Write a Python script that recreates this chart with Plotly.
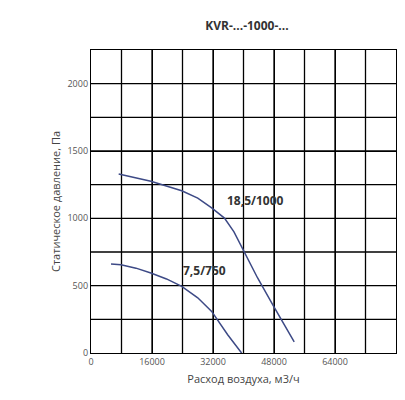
import plotly.graph_objects as go

# Fan curves
q_1000 = [7260, 15700, 23800, 28000, 31650, 35000, 37500, 39700, 43700, 47650, 53300]
p_1000 = [1329, 1275, 1205, 1150, 1077, 1002, 900, 780, 557, 359, 82]
q_750 = [5250, 7870, 11800, 15700, 19800, 23800, 28000, 31650, 35850, 39500]
p_750 = [661, 656, 630, 594, 550, 495, 410, 309, 136, 0]
x_ticks = [0, 16000, 32000, 48000, 64000]
y_ticks = [0, 500, 1000, 1500, 2000]

fig = go.Figure()
for q, p in [(q_1000, p_1000), (q_750, p_750)]:
    fig.add_trace(go.Scatter(x=q, y=p, mode="lines", line=dict(color="#3d4a86", width=1.5),
                             showlegend=False))

for x, y, t in [(43100, 1131, "18,5/1000"), (29700, 614, "7,5/750")]:
    fig.add_annotation(x=x, y=y, text=f"<b>{t}</b>", showarrow=False,
                       font=dict(size=12, color="#333333"))

fig.update_layout(
    width=405, height=400,
    margin=dict(l=83, r=17, t=42, b=55, autoexpand=False),
    paper_bgcolor="white", plot_bgcolor="white",
    font=dict(family="Open Sans", size=9, color="#555555"),
    title=dict(text="<b>KVR-...-1000-...</b>", x=0.59, y=0.965, xanchor="center",
               font=dict(size=12, color="#333333")),
)
fig.update_xaxes(range=[0, 80000], tickvals=x_ticks, ticktext=[str(v) for v in x_ticks],
                 showgrid=True, gridcolor="black", gridwidth=1.3, automargin=False,
                 showline=True, linecolor="black", linewidth=1.3, mirror=True,
                 title=dict(text="Расход воздуха, м3/ч", font=dict(size=11, color="#444444"), standoff=8))
fig.update_yaxes(range=[0, 2250], tickvals=y_ticks, automargin=False,
                 showgrid=True, gridcolor="black", gridwidth=1.3,
                 showline=True, linecolor="black", linewidth=1.3, mirror=True,
                 title=dict(text="Статическое давление, Па", font=dict(size=11, color="#444444"), standoff=4))
# extra grid lines (every 8000 / 250)
for v in range(8000, 80000, 8000):
    fig.add_vline(x=v, line=dict(color="black", width=1.3), layer="below")
for v in range(250, 2250, 250):
    fig.add_hline(y=v, line=dict(color="black", width=1.3), layer="below")

fig.write_html("out.html")
